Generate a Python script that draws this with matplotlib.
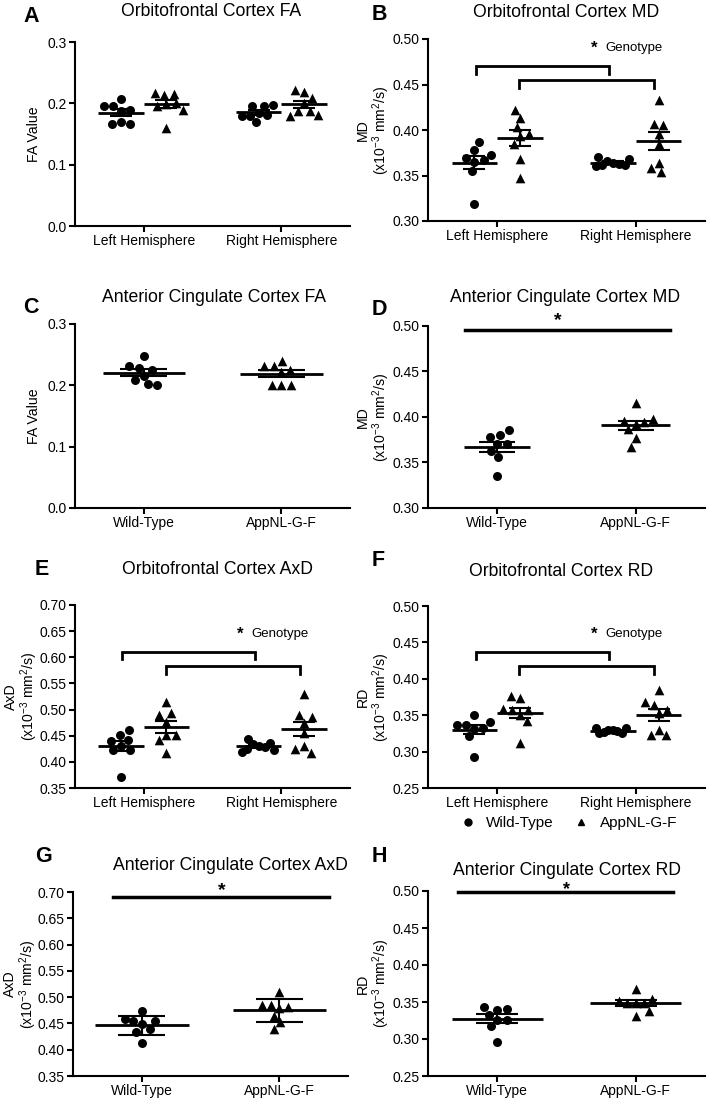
import numpy as np
import matplotlib
matplotlib.use("Agg")
import matplotlib.pyplot as plt
from matplotlib.lines import Line2D

plt.rcParams['font.family'] = ['Liberation Sans', 'DejaVu Sans']
plt.rcParams['mathtext.fontset'] = 'custom'
plt.rcParams['mathtext.rm'] = 'Liberation Sans'
plt.rcParams['mathtext.it'] = 'Liberation Sans:italic'
plt.rcParams['mathtext.bf'] = 'Liberation Sans:bold'

# ---------------- data ----------------
hemis = ["Left Hemisphere", "Right Hemisphere"]
genos = ["Wild-Type", "AppNL-G-F"]

# A: Orbitofrontal FA
ofc_fa_wt_left = [0.195, 0.207, 0.189, 0.188, 0.195, 0.170, 0.166, 0.167]
ofc_fa_app_left = [0.217, 0.214, 0.215, 0.200, 0.195, 0.189, 0.199, 0.159]
ofc_fa_wt_right = [0.195, 0.196, 0.1975, 0.184, 0.180, 0.180, 0.181, 0.169]
ofc_fa_app_right = [0.219, 0.221, 0.208, 0.188, 0.180, 0.181, 0.188, 0.200]
# B: Orbitofrontal MD
ofc_md_wt_left = [0.378, 0.387, 0.3725, 0.365, 0.367, 0.355, 0.319, 0.369]
ofc_md_app_left = [0.422, 0.413, 0.403, 0.396, 0.385, 0.393, 0.368, 0.347]
ofc_md_wt_right = [0.370, 0.368, 0.366, 0.364, 0.362, 0.361, 0.360, 0.363]
ofc_md_app_right = [0.433, 0.405, 0.407, 0.396, 0.385, 0.364, 0.354, 0.358]
# C: Anterior cingulate FA
acc_fa_wt = [0.248, 0.229, 0.232, 0.2245, 0.216, 0.209, 0.201, 0.202]
acc_fa_app = [0.231, 0.231, 0.240, 0.2255, 0.221, 0.201, 0.201, 0.201]
# D: Anterior cingulate MD
acc_md_wt = [0.3777, 0.3854, 0.3803, 0.3704, 0.3704, 0.3628, 0.3558, 0.3347]
acc_md_app = [0.415, 0.3956, 0.3923, 0.395, 0.3978, 0.3865, 0.3766, 0.3675]
# E: Orbitofrontal AxD
ofc_axd_wt_left = [0.461, 0.440, 0.442, 0.452, 0.422, 0.422, 0.430, 0.371]
ofc_axd_app_left = [0.514, 0.493, 0.489, 0.477, 0.452, 0.452, 0.442, 0.417]
ofc_axd_wt_right = [0.444, 0.436, 0.434, 0.430, 0.428, 0.425, 0.422, 0.419]
ofc_axd_app_right = [0.530, 0.490, 0.485, 0.475, 0.430, 0.4245, 0.417, 0.456]
# F: Orbitofrontal RD
ofc_rd_wt_left = [0.337, 0.340, 0.3505, 0.337, 0.331, 0.332, 0.321, 0.292]
ofc_rd_app_left = [0.3757, 0.3734, 0.3565, 0.3565, 0.3583, 0.3505, 0.3423, 0.3117]
ofc_rd_wt_right = [0.333, 0.332, 0.330, 0.329, 0.328, 0.327, 0.326, 0.325]
ofc_rd_app_right = [0.384, 0.3675, 0.3643, 0.3574, 0.3528, 0.330, 0.3222, 0.3222]
# G: Anterior cingulate AxD
acc_axd_wt = [0.473, 0.454, 0.448, 0.454, 0.459, 0.440, 0.434, 0.413]
acc_axd_app = [0.510, 0.486, 0.479, 0.481, 0.486, 0.465, 0.453, 0.440]
# H: Anterior cingulate RD
acc_rd_wt = [0.3434, 0.3398, 0.3412, 0.3321, 0.3254, 0.3263, 0.3172, 0.296]
acc_rd_app = [0.3673, 0.3511, 0.3488, 0.3488, 0.3488, 0.3538, 0.338, 0.3308]

md_label = "MD\n(x10$^{-3}$ mm$^{2}$/s)"
axd_label = "AxD\n(x10$^{-3}$ mm$^{2}$/s)"
rd_label = "RD\n(x10$^{-3}$ mm$^{2}$/s)"

# ---------------- figure ----------------
W, H = 709, 1101
fig = plt.figure(figsize=(W / 100, H / 100), dpi=100)


def add_ax(l, r, t, b):
    return fig.add_axes([l / W, 1 - b / H, (r - l) / W, (b - t) / H])


def style(ax, ylim, yticks, fmt, ylabel, xticklabels, label_px):
    ax.set_xlim(-0.5, 1.5)
    ax.set_ylim(*ylim)
    ax.set_yticks(yticks)
    ax.set_yticklabels([fmt % v for v in yticks])
    ax.set_xticks([0, 1])
    ax.set_xticklabels(xticklabels)
    for s in ["top", "right"]:
        ax.spines[s].set_visible(False)
    for s in ["left", "bottom"]:
        ax.spines[s].set_linewidth(1.5)
    ax.tick_params(width=1.5, length=4, labelsize=10, pad=2)
    ax.set_ylabel(ylabel, fontsize=10.2, linespacing=1.05)
    ax_w = ax.get_position().width * W
    ax.yaxis.set_label_coords(-label_px / ax_w, 0.5)


def swarm_x(ax, center, values, d=9.5, maxoff=17.0):
    vals = np.asarray(values, float)
    pts = ax.transData.transform(np.column_stack([np.full(len(vals), center), vals]))
    ys = pts[:, 1]
    xc = pts[0, 0]
    m = ys.mean()
    order = np.argsort(np.abs(ys - m))
    placed = []
    xs = np.zeros(len(vals))
    side = 1
    for i in order:
        y = ys[i]
        cands = [0.0]
        for px, py in placed:
            dy = y - py
            if abs(dy) < d:
                dx = np.sqrt(d * d - dy * dy)
                cands += [px - dx, px + dx]
        valid = [c for c in cands
                 if all((c - px) ** 2 + (y - py) ** 2 >= d * d - 1e-6 for px, py in placed)]
        best_abs = min(abs(c) for c in valid)
        opts = [c for c in valid if abs(abs(c) - best_abs) < 1e-6]
        if len(opts) > 1:
            same = [c for c in opts if np.sign(c) == side]
            best = same[0] if same else opts[0]
            side = -side
        else:
            best = opts[0]
        xs[i] = best
        placed.append((best, y))
    mx = np.abs(xs).max()
    if mx > maxoff:
        xs = xs * maxoff / mx
    inv = ax.transData.inverted()
    return inv.transform(np.column_stack([xc + xs, ys]))[:, 0]


def group(ax, center, values, marker, hw, cw, err="sem"):
    vals = np.asarray(values, float)
    xs = swarm_x(ax, center, vals)
    ax.scatter(xs, vals, marker=marker, s=42 if marker == "o" else 48,
               color="black", zorder=3, linewidths=0)
    mean = vals.mean()
    e = vals.std(ddof=1)
    if err == "sem":
        e = e / np.sqrt(len(vals))
    ax.hlines(mean, center - hw, center + hw, color="black", lw=2, zorder=4)
    ax.vlines(center, mean - e, mean + e, color="black", lw=1.5, zorder=4)
    ax.hlines([mean - e, mean + e], center - cw, center + cw, color="black", lw=1.5, zorder=4)


def hemi_panel(ax, wl, al, wr, ar):
    off = 0.165
    for c, w, a in [(0, wl, al), (1, wr, ar)]:
        group(ax, c - off, w, "o", 0.165, 0.08)
        group(ax, c + off, a, "^", 0.165, 0.08)


def bracket(ax, x0, x1, ytop, ybot):
    ax.plot([x0, x0, x1, x1], [ybot, ytop, ytop, ybot], color="black", lw=2,
            solid_joinstyle="miter", clip_on=False)


def genotype(ax, y):
    ax.text(0.70, y, "*", fontsize=12, fontweight="bold", ha="center", va="center")
    ax.text(0.78, y, "Genotype", fontsize=9.5, ha="left", va="center")


def sigline(ax, x0, x1, y, xs, dy_pt, fs=14):
    ax.plot([x0, x1], [y, y], color="black", lw=2.5, clip_on=False)
    ax.annotate("*", xy=(xs, y), xytext=(0, dy_pt), textcoords="offset points",
                fontsize=fs, fontweight="bold", ha="center", va="baseline")


yt_fa = [0, 0.1, 0.2, 0.3]
yt_md = [0.30, 0.35, 0.40, 0.45, 0.50]
yt_axd = [0.35, 0.40, 0.45, 0.50, 0.55, 0.60, 0.65, 0.70]
yt_rd = [0.25, 0.30, 0.35, 0.40, 0.45, 0.50]

# A
axA = add_ax(75, 350, 42, 226)
style(axA, (0, 0.3), yt_fa, "%.1f", "FA Value", hemis, 34)
hemi_panel(axA, ofc_fa_wt_left, ofc_fa_app_left, ofc_fa_wt_right, ofc_fa_app_right)

# B
axB = add_ax(428, 705, 39, 221)
style(axB, (0.30, 0.50), yt_md, "%.2f", md_label, hemis, 36)
hemi_panel(axB, ofc_md_wt_left, ofc_md_app_left, ofc_md_wt_right, ofc_md_app_right)
bracket(axB, -0.155, 0.81, 0.4707, 0.462)
bracket(axB, 0.16, 1.135, 0.455, 0.446)
genotype(axB, 0.490)

# C
axC = add_ax(75, 350, 324, 508)
style(axC, (0, 0.3), yt_fa, "%.1f", "FA Value", genos, 34)
group(axC, 0, acc_fa_wt, "o", 0.30, 0.17)
group(axC, 1, acc_fa_app, "^", 0.30, 0.17)

# D
axD = add_ax(428, 705, 326, 508)
style(axD, (0.30, 0.50), yt_md, "%.2f", md_label, genos, 36)
group(axD, 0, acc_md_wt, "o", 0.24, 0.13)
group(axD, 1, acc_md_app, "^", 0.25, 0.13)
sigline(axD, -0.23, 1.25, 0.496, 0.44, 3)

# E
axE = add_ax(75, 350, 605, 788)
style(axE, (0.35, 0.70), yt_axd, "%.2f", axd_label, hemis, 35)
hemi_panel(axE, ofc_axd_wt_left, ofc_axd_app_left, ofc_axd_wt_right, ofc_axd_app_right)
bracket(axE, -0.155, 0.81, 0.611, 0.596)
bracket(axE, 0.16, 1.135, 0.5836, 0.568)
genotype(axE, 0.644)

# F
axF = add_ax(428, 705, 606, 788)
style(axF, (0.25, 0.50), yt_rd, "%.2f", rd_label, hemis, 36)
hemi_panel(axF, ofc_rd_wt_left, ofc_rd_app_left, ofc_rd_wt_right, ofc_rd_app_right)
bracket(axF, -0.155, 0.81, 0.4374, 0.4269)
bracket(axF, 0.16, 1.135, 0.4177, 0.4063)
genotype(axF, 0.461)

# G
axG = add_ax(73, 348, 892, 1076)
style(axG, (0.35, 0.70), yt_axd, "%.2f", axd_label, genos, 34)
group(axG, 0, acc_axd_wt, "o", 0.34, 0.17, err="sd")
group(axG, 1, acc_axd_app, "^", 0.34, 0.17, err="sd")
sigline(axG, -0.21, 1.36, 0.6912, 0.58, 0.8)

# H
axH = add_ax(428, 705, 891, 1076)
style(axH, (0.25, 0.50), yt_rd, "%.2f", rd_label, genos, 36)
group(axH, 0, acc_rd_wt, "o", 0.33, 0.15)
group(axH, 1, acc_rd_app, "^", 0.33, 0.15)
sigline(axH, -0.28, 1.27, 0.4987, 0.50, -1.2, fs=13)

# titles and letters (pixel positions)
titles = [("Orbitofrontal Cortex FA", 211, 16), ("Orbitofrontal Cortex MD", 566, 17),
          ("Anterior Cingulate Cortex FA", 214, 302), ("Anterior Cingulate Cortex MD", 565, 302),
          ("Orbitofrontal Cortex AxD", 217, 574), ("Orbitofrontal Cortex RD", 561, 576),
          ("Anterior Cingulate Cortex AxD", 230, 870), ("Anterior Cingulate Cortex RD", 567, 875)]
for t, x, y in titles:
    fig.text(x / W, 1 - y / H, t, fontsize=12.7, ha="center", va="baseline")

letters = [("A", 23, 22), ("B", 372, 20), ("C", 23, 313), ("D", 372, 315),
           ("E", 35, 575), ("F", 372, 566), ("G", 35, 862), ("H", 372, 862)]
for t, x, y in letters:
    fig.text(x / W, 1 - y / H, t, fontsize=15.5, fontweight="bold", ha="left", va="baseline")

# legend
handles = [Line2D([], [], marker="o", ls="none", color="black", ms=5),
           Line2D([], [], marker="^", ls="none", color="black", ms=5)]
fig.legend(handles, genos, ncol=2, frameon=False, loc="center",
           bbox_to_anchor=(568 / W, 1 - 823 / H), fontsize=11,
           handlelength=1.2, handletextpad=0.6, columnspacing=1.2)

fig.savefig("out.png", dpi=100)
